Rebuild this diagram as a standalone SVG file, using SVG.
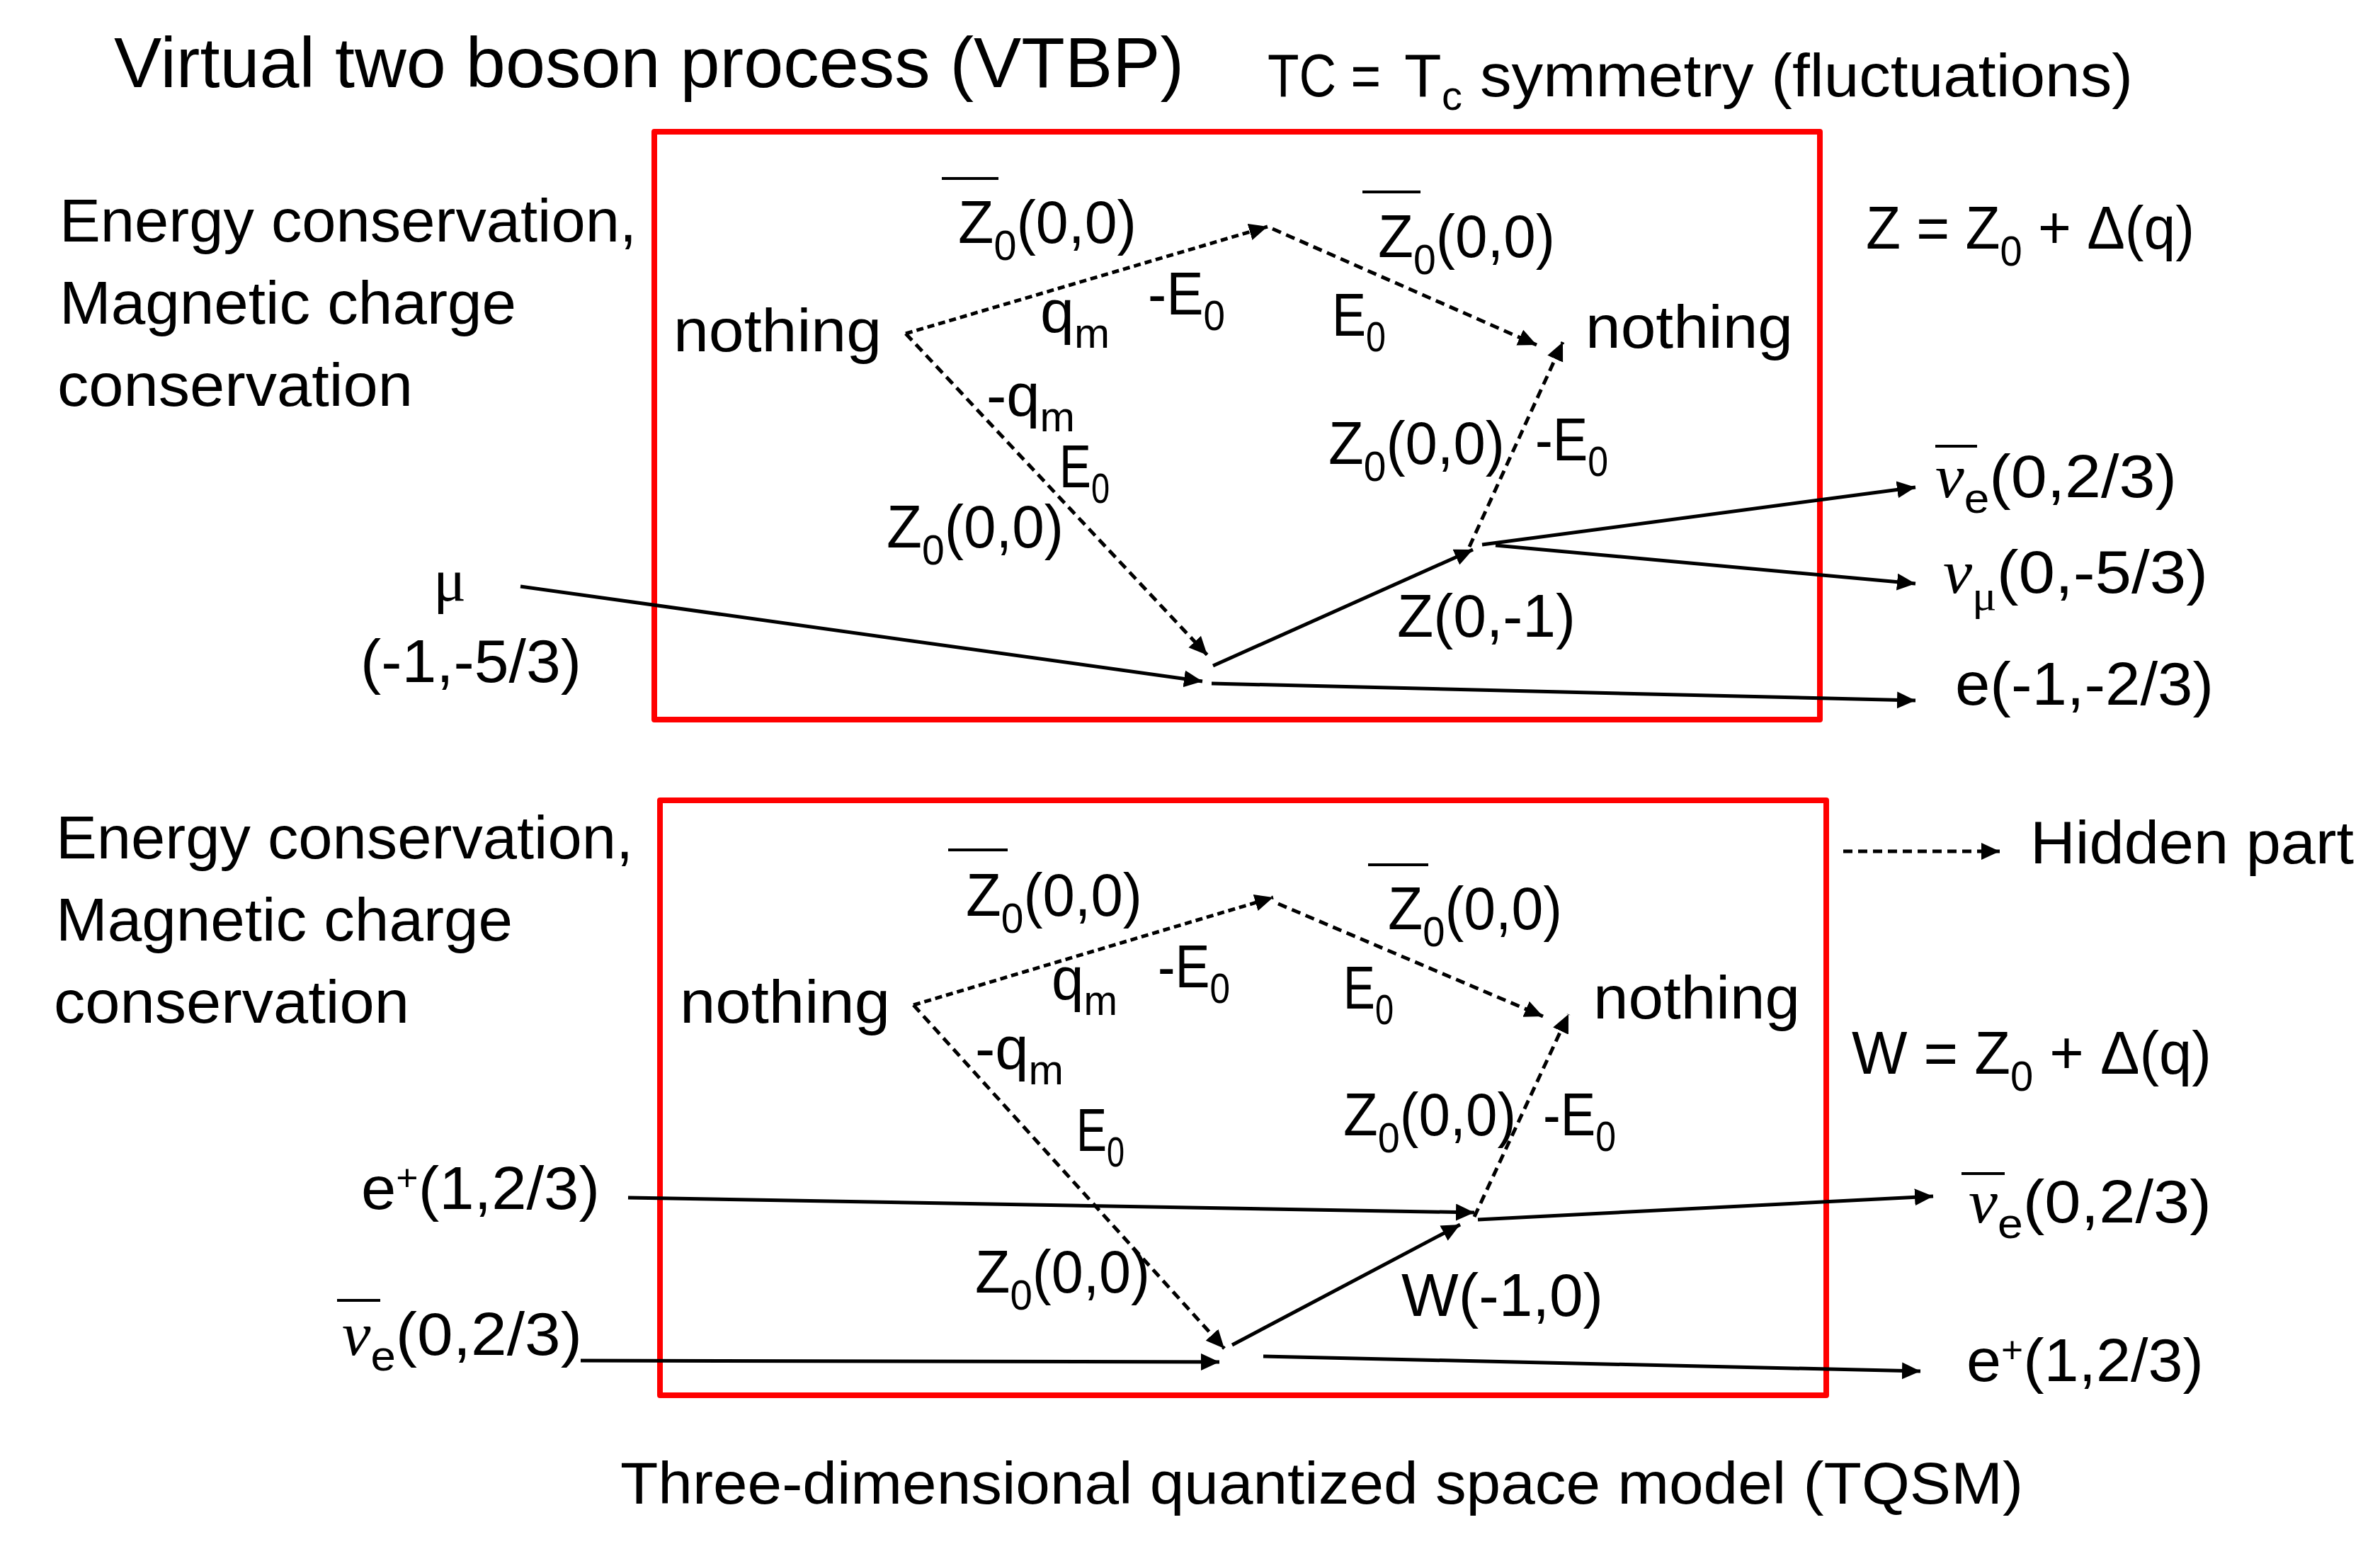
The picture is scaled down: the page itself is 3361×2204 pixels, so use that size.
<svg xmlns="http://www.w3.org/2000/svg" width="3361" height="2204" viewBox="0 0 3361 2204">
<defs>
<style>
.t{font-family:"Liberation Sans",Arial,sans-serif;font-size:86px;fill:#000}
.big{font-size:100px}
.sub{font-size:60px}
.sup{font-size:52px}
.subc{font-size:58px}
.gr{font-family:"Liberation Serif","Times New Roman",serif;font-style:italic}
.box{fill:none;stroke:#FF0000;stroke-width:8;stroke-linejoin:round}
.ln{fill:none;stroke:#000;stroke-width:5}
.ds{stroke-dasharray:13 8}
.ds2{stroke-dasharray:10 6}
.ov{stroke:#000;stroke-width:4}
</style>
<marker id="arr" markerUnits="userSpaceOnUse" markerWidth="28" markerHeight="26" refX="26" refY="12" orient="auto">
<path d="M0,0 L26,12 L0,24 z" fill="#000"/>
</marker>
</defs>
<rect width="3361" height="2204" fill="#fff"/>

<g id="title">
<text class="t big" x="161" y="123" textLength="1511" lengthAdjust="spacingAndGlyphs">Virtual two boson process (VTBP)</text>
</g>
<g id="tc-symmetry">
<text class="t" x="1790" y="136" textLength="160" lengthAdjust="spacingAndGlyphs">TC =</text>
<text class="t" x="1983" y="136">T</text>
<text class="t subc" x="2036" y="155">c</text>
<text class="t" x="2090" y="136" textLength="922" lengthAdjust="spacingAndGlyphs">symmetry (fluctuations)</text>
</g>

<g id="boxes">
<rect id="box-top" class="box" x="924" y="186" width="1646" height="830"/>
<rect id="box-bottom" class="box" x="932" y="1130" width="1647" height="840"/>
</g>

<g id="connectors">
<!-- top diagram -->
<line class="ln ds2" x1="1279" y1="471" x2="1790" y2="320" marker-end="url(#arr)"/>
<line class="ln ds" x1="1797" y1="323" x2="2170" y2="487" marker-end="url(#arr)"/>
<line class="ln ds" x1="2075" y1="772" x2="2207" y2="483" marker-end="url(#arr)"/>
<line class="ln ds" x1="1279" y1="471" x2="1705" y2="925" marker-end="url(#arr)"/>
<line class="ln" x1="1713" y1="940" x2="2080" y2="776" marker-end="url(#arr)"/>
<line class="ln" x1="735" y1="828" x2="1698" y2="962" marker-end="url(#arr)"/>
<line class="ln" x1="1711" y1="965" x2="2705" y2="989" marker-end="url(#arr)"/>
<line class="ln" x1="2093" y1="769" x2="2705" y2="688" marker-end="url(#arr)"/>
<line class="ln" x1="2112" y1="770" x2="2705" y2="824" marker-end="url(#arr)"/>
<!-- bottom diagram -->
<line class="ln ds2" x1="1290" y1="1419" x2="1798" y2="1267" marker-end="url(#arr)"/>
<line class="ln ds" x1="1805" y1="1276" x2="2179" y2="1435" marker-end="url(#arr)"/>
<line class="ln ds" x1="2082" y1="1718" x2="2215" y2="1432" marker-end="url(#arr)"/>
<line class="ln ds" x1="1290" y1="1419" x2="1729" y2="1904" marker-end="url(#arr)"/>
<line class="ln" x1="1740" y1="1899" x2="2062" y2="1729" marker-end="url(#arr)"/>
<line class="ln" x1="887" y1="1691" x2="2082" y2="1712" marker-end="url(#arr)"/>
<line class="ln" x1="820" y1="1921" x2="1722" y2="1923" marker-end="url(#arr)"/>
<line class="ln" x1="2087" y1="1722" x2="2730" y2="1689" marker-end="url(#arr)"/>
<line class="ln" x1="1784" y1="1915" x2="2712" y2="1936" marker-end="url(#arr)"/>
<!-- legend -->
<line class="ln ds" x1="2603" y1="1202" x2="2824" y2="1202" marker-end="url(#arr)"/>
</g>

<!-- left texts -->
<g id="conservation-top">
<text class="t" x="84" y="341" textLength="815" lengthAdjust="spacingAndGlyphs">Energy conservation,</text>
<text class="t" x="84" y="457" textLength="645" lengthAdjust="spacingAndGlyphs">Magnetic charge</text>
<text class="t" x="81" y="573" textLength="502" lengthAdjust="spacingAndGlyphs">conservation</text>
</g>
<g id="conservation-bottom">
<text class="t" x="79" y="1212" textLength="815" lengthAdjust="spacingAndGlyphs">Energy conservation,</text>
<text class="t" x="79" y="1328" textLength="645" lengthAdjust="spacingAndGlyphs">Magnetic charge</text>
<text class="t" x="76" y="1444" textLength="502" lengthAdjust="spacingAndGlyphs">conservation</text>
</g>

<!-- top diagram nodes -->
<g id="top-nothing-left"><text class="t" x="951" y="496" textLength="294" lengthAdjust="spacingAndGlyphs">nothing</text></g>
<g id="top-nothing-right"><text class="t" x="2239" y="491" textLength="293" lengthAdjust="spacingAndGlyphs">nothing</text></g>
<g id="top-z0bar-a">
<line class="ov" x1="1330" y1="252" x2="1410" y2="252"/>
<text class="t" x="1353" y="343" textLength="252" lengthAdjust="spacingAndGlyphs">Z<tspan class="sub" dy="24">0</tspan><tspan dy="-24">(0,0)</tspan></text>
</g>
<g id="top-z0bar-b">
<line class="ov" x1="1924" y1="271" x2="2006" y2="271"/>
<text class="t" x="1946" y="363" textLength="250" lengthAdjust="spacingAndGlyphs">Z<tspan class="sub" dy="24">0</tspan><tspan dy="-24">(0,0)</tspan></text>
</g>
<g id="top-qm"><text class="t" x="1469" y="469" textLength="98" lengthAdjust="spacingAndGlyphs">q<tspan class="sub" dy="22">m</tspan></text></g>
<g id="top-mE0-a"><text class="t" x="1621" y="444" textLength="109" lengthAdjust="spacingAndGlyphs">-E<tspan class="sub" dy="22">0</tspan></text></g>
<g id="top-E0-a"><text class="t" x="1881" y="474" textLength="76" lengthAdjust="spacingAndGlyphs">E<tspan class="sub" dy="22">0</tspan></text></g>
<g id="top-mqm"><text class="t" x="1393" y="587" textLength="125" lengthAdjust="spacingAndGlyphs">-q<tspan class="sub" dy="22">m</tspan></text></g>
<g id="top-E0-b"><text class="t" x="1496" y="688" textLength="71" lengthAdjust="spacingAndGlyphs">E<tspan class="sub" dy="22">0</tspan></text></g>
<g id="top-z0-c"><text class="t" x="1252" y="773" textLength="250" lengthAdjust="spacingAndGlyphs">Z<tspan class="sub" dy="24">0</tspan><tspan dy="-24">(0,0)</tspan></text></g>
<g id="top-z0-d"><text class="t" x="1876" y="655" textLength="249" lengthAdjust="spacingAndGlyphs">Z<tspan class="sub" dy="24">0</tspan><tspan dy="-24">(0,0)</tspan></text></g>
<g id="top-mE0-b"><text class="t" x="2168" y="650" textLength="103" lengthAdjust="spacingAndGlyphs">-E<tspan class="sub" dy="22">0</tspan></text></g>
<g id="top-z"><text class="t" x="1973" y="899" textLength="252" lengthAdjust="spacingAndGlyphs">Z(0,-1)</text></g>
<g id="top-mu">
<text class="t gr" x="612" y="848" style="font-style:normal">μ</text>
<text class="t" x="509" y="963" textLength="312" lengthAdjust="spacingAndGlyphs">(-1,-5/3)</text>
</g>
<g id="top-eq"><text class="t" x="2635" y="351" textLength="464" lengthAdjust="spacingAndGlyphs">Z = Z<tspan class="sub" dy="24">0</tspan><tspan dy="-24"> + Δ(q)</tspan></text></g>
<g id="top-nuebar">
<line class="ov" x1="2733" y1="630" x2="2792" y2="630"/>
<text class="t" x="2733" y="702" textLength="341" lengthAdjust="spacingAndGlyphs"><tspan class="gr">ν</tspan><tspan class="sub" dy="22">e</tspan><tspan dy="-22">(0,2/3)</tspan></text>
</g>
<g id="top-numu"><text class="t" x="2744" y="837" textLength="374" lengthAdjust="spacingAndGlyphs"><tspan class="gr">ν</tspan><tspan class="sub gr" dy="24" style="font-style:normal">μ</tspan><tspan dy="-24">(0,-5/3)</tspan></text></g>
<g id="top-e"><text class="t" x="2761" y="995" textLength="365" lengthAdjust="spacingAndGlyphs">e(-1,-2/3)</text></g>

<!-- bottom diagram nodes -->
<g id="bot-nothing-left"><text class="t" x="960" y="1444" textLength="297" lengthAdjust="spacingAndGlyphs">nothing</text></g>
<g id="bot-nothing-right"><text class="t" x="2250" y="1438" textLength="292" lengthAdjust="spacingAndGlyphs">nothing</text></g>
<g id="bot-z0bar-a">
<line class="ov" x1="1339" y1="1200" x2="1423" y2="1200"/>
<text class="t" x="1364" y="1293" textLength="249" lengthAdjust="spacingAndGlyphs">Z<tspan class="sub" dy="24">0</tspan><tspan dy="-24">(0,0)</tspan></text>
</g>
<g id="bot-z0bar-b">
<line class="ov" x1="1932" y1="1221" x2="2017" y2="1221"/>
<text class="t" x="1960" y="1312" textLength="246" lengthAdjust="spacingAndGlyphs">Z<tspan class="sub" dy="24">0</tspan><tspan dy="-24">(0,0)</tspan></text>
</g>
<g id="bot-qm"><text class="t" x="1485" y="1411" textLength="93" lengthAdjust="spacingAndGlyphs">q<tspan class="sub" dy="22">m</tspan></text></g>
<g id="bot-mE0-a"><text class="t" x="1635" y="1394" textLength="102" lengthAdjust="spacingAndGlyphs">-E<tspan class="sub" dy="22">0</tspan></text></g>
<g id="bot-E0-a"><text class="t" x="1897" y="1424" textLength="71" lengthAdjust="spacingAndGlyphs">E<tspan class="sub" dy="22">0</tspan></text></g>
<g id="bot-mqm"><text class="t" x="1377" y="1509" textLength="125" lengthAdjust="spacingAndGlyphs">-q<tspan class="sub" dy="22">m</tspan></text></g>
<g id="bot-E0-b"><text class="t" x="1520" y="1625" textLength="68" lengthAdjust="spacingAndGlyphs">E<tspan class="sub" dy="22">0</tspan></text></g>
<g id="bot-z0-d"><text class="t" x="1897" y="1603" textLength="244" lengthAdjust="spacingAndGlyphs">Z<tspan class="sub" dy="24">0</tspan><tspan dy="-24">(0,0)</tspan></text></g>
<g id="bot-mE0-b"><text class="t" x="2179" y="1603" textLength="103" lengthAdjust="spacingAndGlyphs">-E<tspan class="sub" dy="22">0</tspan></text></g>
<g id="bot-z0-c"><text class="t" x="1377" y="1825" textLength="247" lengthAdjust="spacingAndGlyphs">Z<tspan class="sub" dy="24">0</tspan><tspan dy="-24">(0,0)</tspan></text></g>
<g id="bot-w"><text class="t" x="1979" y="1858" textLength="285" lengthAdjust="spacingAndGlyphs">W(-1,0)</text></g>
<g id="bot-eplus-in"><text class="t" x="510" y="1707" textLength="337" lengthAdjust="spacingAndGlyphs">e<tspan class="sup" dy="-26">+</tspan><tspan dy="26">(1,2/3)</tspan></text></g>
<g id="bot-nuebar-in">
<line class="ov" x1="476" y1="1836" x2="537" y2="1836"/>
<text class="t" x="483" y="1913" textLength="339" lengthAdjust="spacingAndGlyphs"><tspan class="gr">ν</tspan><tspan class="sub" dy="22">e</tspan><tspan dy="-22">(0,2/3)</tspan></text>
</g>
<g id="legend-hidden"><text class="t" x="2867" y="1219" textLength="457" lengthAdjust="spacingAndGlyphs">Hidden part</text></g>
<g id="bot-eq"><text class="t" x="2615" y="1516" textLength="508" lengthAdjust="spacingAndGlyphs">W = Z<tspan class="sub" dy="24">0</tspan><tspan dy="-24"> + Δ(q)</tspan></text></g>
<g id="bot-nuebar-out">
<line class="ov" x1="2770" y1="1657" x2="2831" y2="1657"/>
<text class="t" x="2780" y="1726" textLength="343" lengthAdjust="spacingAndGlyphs"><tspan class="gr">ν</tspan><tspan class="sub" dy="22">e</tspan><tspan dy="-22">(0,2/3)</tspan></text>
</g>
<g id="bot-eplus-out"><text class="t" x="2777" y="1950" textLength="335" lengthAdjust="spacingAndGlyphs">e<tspan class="sup" dy="-26">+</tspan><tspan dy="26">(1,2/3)</tspan></text></g>

<g id="caption">
<text class="t" x="876" y="2123" style="font-size:84px" textLength="1981" lengthAdjust="spacingAndGlyphs">Three-dimensional quantized space model (TQSM)</text>
</g>
</svg>
